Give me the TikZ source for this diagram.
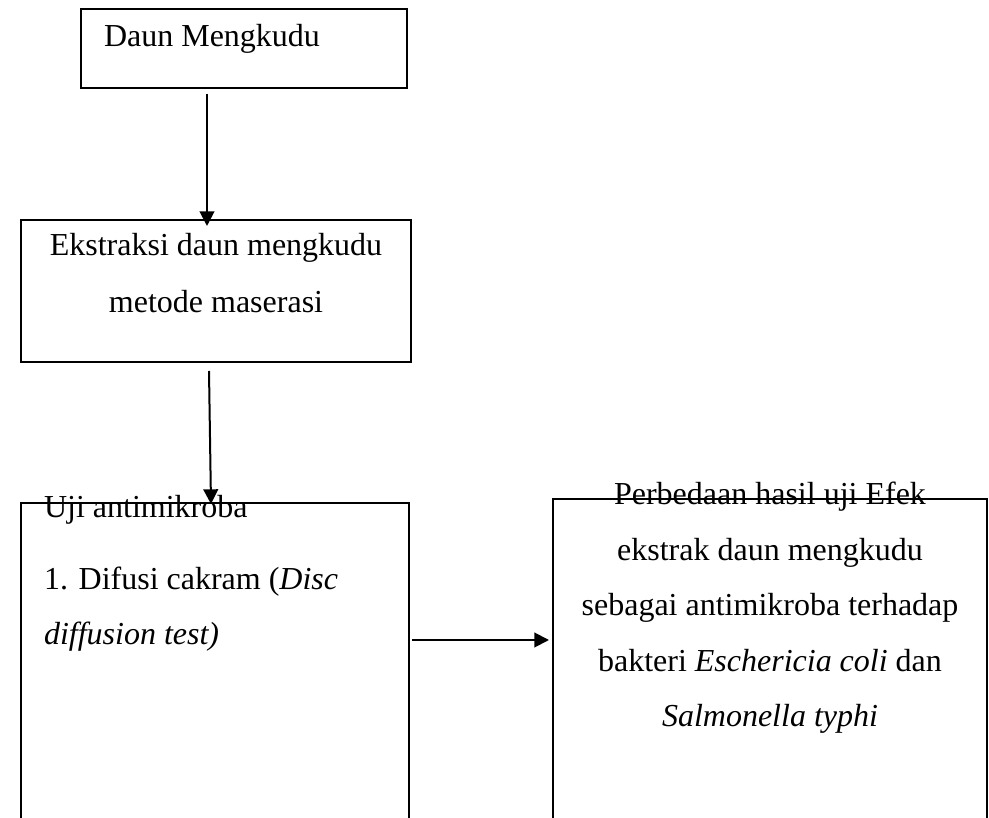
\documentclass[tikz,border=0pt]{standalone}
\usepackage{fontspec}
\setmainfont{Liberation Serif}
\usetikzlibrary{arrows.meta,calc,positioning}
\tikzset{
	flow chart/.style={
		x=0.375pt, y=-0.375pt,
		line width=0.75pt,
		ar/.style={draw,-{Triangle[length=5.5pt,width=5.5pt]}},
		every node/.style={font=\fontsize{12}{20.8}\selectfont}
		},
	bx/.style 2 args={draw,rectangle,anchor=north west,inner sep=0pt,outer sep=0pt,
		minimum width=#1*0.375pt,minimum height=#2*0.375pt},
	line/.style={inner sep=0pt,anchor=base},
	line left/.style={inner sep=0pt,anchor=base west}
}

\begin{document}
\begin{tikzpicture}[flow chart]
      \useasboundingbox (0,0) rectangle (989,818);
      \clip (0,0) rectangle (989,818);
      \node[bx={326}{79}] (daun) at (81,9) {};
      \node[bx={390}{142}] (ekstr) at (21,220) {};
      \node[bx={388}{400}] (uji) at (21,503) {};
      \node[bx={434}{404}] (hasil) at (553,499) {};
      % texts
      \node[line left] (daunT) at (103,47) {Daun Mengkudu};
      \node[line] (ekstrT1) at (216,256) {Ekstraksi daun mengkudu};
      \node[line] (ekstrT2) at (216,313) {metode maserasi};
      \node[line left] (ujiT1) at (43,518) {Uji antimikroba};
      \node[line left] (ujiT2) at (43,590) {1. Difusi cakram (\textit{Disc}};
      \node[line left] (ujiT3) at (43,645) {\textit{diffusion test)}};
      \foreach \t [count=\i] in {Perbedaan hasil uji Efek,
            ekstrak daun mengkudu,
            sebagai antimikroba terhadap,
            bakteri \textit{Eschericia coli} dan,
            \textit{Salmonella typhi}}
         \node[line] (hasilT\i) at (770,{505+55.5*(\i-1)}) {\t};
      % arrows
      \coordinate (a1) at (207,94);
      \coordinate (a2) at (209,371);
      \coordinate (a3) at (412,640);
      \draw[ar] (a1) -- ($(a1 |- ekstr.north)+(0,6)$);
      \draw[ar] (a2) -- ($(uji.north west)+(190,1)$);
      \draw[ar] (a3) -- ($(a3 -| hasil.west)+(-4,0)$);
   \end{tikzpicture}
\end{document}
